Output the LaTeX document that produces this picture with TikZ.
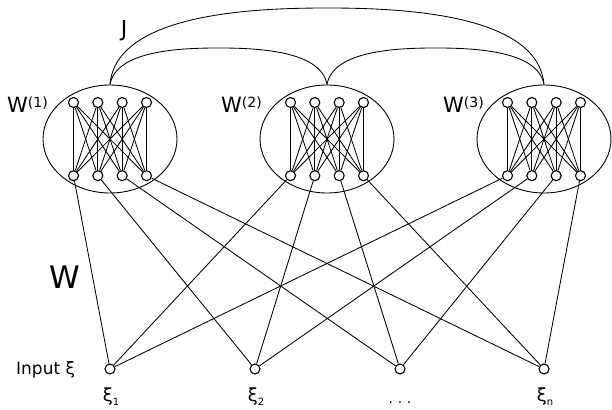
\documentclass[tikz,border=0pt]{standalone}
\usepackage{fontspec}
\setmainfont{DejaVu Sans}
\usetikzlibrary{shapes.geometric}
\newcommand\wlab[1]{{\fontsize{21}{21}\selectfont W}{\fontsize{14}{14}\selectfont\raisebox{5pt}{(#1)}}}
\newcommand\xilab[1]{{\fontsize{18}{18}\selectfont ξ}{\fontsize{10}{10}\selectfont\raisebox{-4pt}{#1}}}
\begin{document}
\begin{tikzpicture}[x=1pt,y=-1pt,
  neuron/.style={circle,draw,fill=white,line width=1.1pt,minimum size=10pt,inner sep=0pt},
  group/.style={ellipse,draw,line width=0.9pt,minimum width=134pt,minimum height=108pt,inner sep=0pt},
  link/.style={line width=0.85pt},
  lbl/.style={inner sep=0pt}]
\useasboundingbox (0,0) rectangle (612,409);
% groups
\foreach \c/\n in {110/1,327/2,544/3} \node[group] (E\n) at (\c,139) {};
% neurons
\foreach \g/\c in {1/110,2/327,3/544} {
  \foreach \i in {1,...,4} {
    \node[neuron] (T\g\i) at ({\c+(\i-2.5)*24.33},102.5) {};
    \node[neuron] (B\g\i) at ({\c+(\i-2.5)*24.33},175.7) {};
  }
}
% internal links
\foreach \g in {1,2,3} \foreach \i in {1,...,4} \foreach \j in {1,...,4}
  \draw[link] (T\g\i) -- (B\g\j);
% inputs
\foreach \i/\x in {1/110,2/255,3/400,4/544} \node[neuron] (I\i) at (\x,369) {};
\foreach \g in {1,2,3} \foreach \i in {1,...,4} \draw[link] (B\g\i) -- (I\i);
% J arcs
\coordinate (Jtop) at (327,8);
\coordinate (Jl) at (218.5,48);
\coordinate (Jr) at (435.5,48);
\draw[link] (E1.north) .. controls (116,13) and (255,8) .. (Jtop)
  .. controls (399,8) and (538,13) .. (E3.north);
\draw[link] (E1.north) .. controls (116,50) and (182,48) .. (Jl)
  .. controls (255,48) and (321,50) .. (E2.north);
\draw[link] (E2.north) .. controls (333,50) and (399,48) .. (Jr)
  .. controls (472,48) and (538,50) .. (E3.north);
% labels
\node[lbl,anchor=base west] (W1) at (7,112) {\wlab{1}};
\node[lbl,anchor=base west] (W2) at (221,112) {\wlab{2}};
\node[lbl,anchor=base west] (W3) at (443,112) {\wlab{3}};
\node[lbl,font=\fontsize{22}{22}\selectfont] (J) at (124,31) {J};
\node[lbl,anchor=base west,font=\fontsize{31}{31}\selectfont] (W) at (49,288) {W};
\node[lbl,anchor=base west,font=\fontsize{17}{17}\selectfont] (In) at (16,374) {Input ξ};
\node[lbl,anchor=base] (X1) at (111,401) {\xilab{1}};
\node[lbl,anchor=base] (X2) at (256,401) {\xilab{2}};
\node[lbl,anchor=base,font=\fontsize{14}{14}\selectfont] (X3) at (400,403) {.\,\,.\,\,.};
\node[lbl,anchor=base] (X4) at (545,401) {\xilab{n}};
\end{tikzpicture}
\end{document}
